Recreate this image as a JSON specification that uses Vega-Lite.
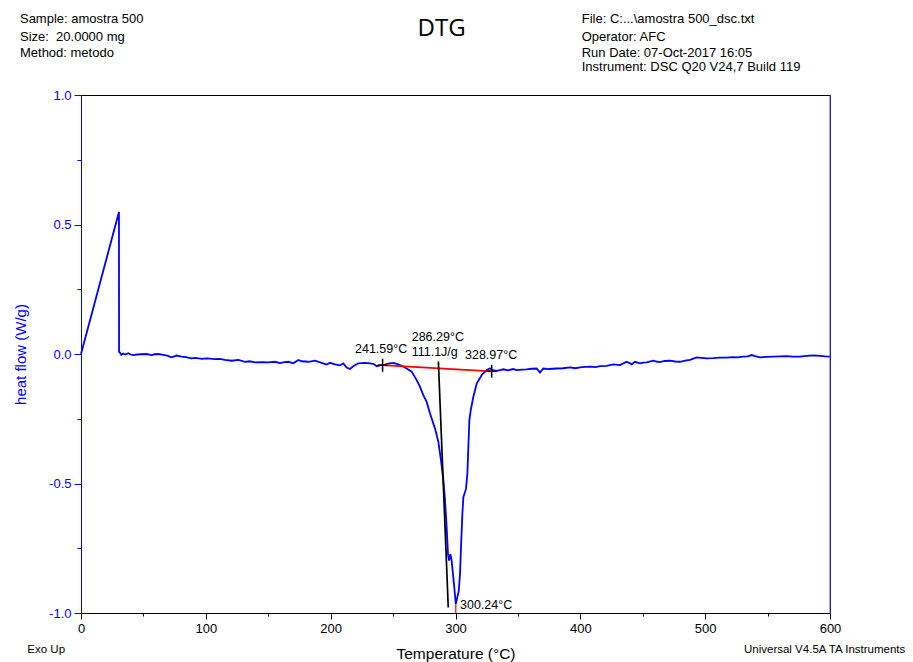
{
  "$schema": "https://vega.github.io/schema/vega-lite/v6.json",
  "width": 749,
  "height": 518,
  "autosize": {"type": "none"},
  "padding": {"left": 81, "top": 95, "right": 83, "bottom": 49},
  "background": "white",
  "config": {"view": {"stroke": "black", "strokeWidth": 1}, "font": "Liberation Sans"},
  "datasets": {
    "curve": [
      {"T": 0, "hf": 0}, {"T": 30.4, "hf": 0.548}, {"T": 30.5, "hf": 0.008}, {"T": 31.2, "hf": 0.005},
      {"T": 32.3, "hf": -0.003}, {"T": 33.9, "hf": 0.002}, {"T": 35.5, "hf": -0.002}, {"T": 37.9, "hf": 0.003},
      {"T": 40, "hf": -0.002}, {"T": 41.9, "hf": -0.004}, {"T": 45, "hf": -0.002}, {"T": 48.6, "hf": -0.001},
      {"T": 52.6, "hf": 0.0}, {"T": 56.6, "hf": -0.004}, {"T": 59, "hf": -0.001}, {"T": 61.9, "hf": 0.0},
      {"T": 65.9, "hf": -0.003}, {"T": 69, "hf": -0.006}, {"T": 72.6, "hf": -0.013}, {"T": 76.6, "hf": -0.006},
      {"T": 80.6, "hf": -0.010}, {"T": 84, "hf": -0.012}, {"T": 88.6, "hf": -0.017}, {"T": 92, "hf": -0.015},
      {"T": 96.6, "hf": -0.019}, {"T": 101, "hf": -0.017}, {"T": 107.3, "hf": -0.020}, {"T": 111, "hf": -0.019},
      {"T": 115.3, "hf": -0.023}, {"T": 120.7, "hf": -0.026}, {"T": 126, "hf": -0.023}, {"T": 131.4, "hf": -0.030},
      {"T": 135, "hf": -0.028}, {"T": 139.4, "hf": -0.032}, {"T": 144.7, "hf": -0.031}, {"T": 150.1, "hf": -0.032},
      {"T": 155.4, "hf": -0.030}, {"T": 159.4, "hf": -0.035}, {"T": 163, "hf": -0.031}, {"T": 166.1, "hf": -0.030},
      {"T": 170.1, "hf": -0.036}, {"T": 174.1, "hf": -0.023}, {"T": 176.8, "hf": -0.028}, {"T": 182.1, "hf": -0.030},
      {"T": 187.5, "hf": -0.026}, {"T": 192.8, "hf": -0.034}, {"T": 196.8, "hf": -0.041}, {"T": 199.5, "hf": -0.034},
      {"T": 203.5, "hf": -0.040}, {"T": 207.5, "hf": -0.044}, {"T": 210.1, "hf": -0.036}, {"T": 212.8, "hf": -0.052},
      {"T": 215.5, "hf": -0.058}, {"T": 218.1, "hf": -0.047}, {"T": 222.1, "hf": -0.036}, {"T": 227.5, "hf": -0.034},
      {"T": 231.5, "hf": -0.036}, {"T": 234.2, "hf": -0.038}, {"T": 236.9, "hf": -0.047}, {"T": 240, "hf": -0.043},
      {"T": 242.2, "hf": -0.043}, {"T": 246, "hf": -0.037}, {"T": 250.2, "hf": -0.034}, {"T": 253, "hf": -0.038},
      {"T": 255.6, "hf": -0.043}, {"T": 258, "hf": -0.048}, {"T": 260.9, "hf": -0.056}, {"T": 264.9, "hf": -0.068},
      {"T": 268.9, "hf": -0.101}, {"T": 271.6, "hf": -0.127}, {"T": 274.2, "hf": -0.159}, {"T": 276.9, "hf": -0.185},
      {"T": 279.6, "hf": -0.230}, {"T": 283.6, "hf": -0.288}, {"T": 286.3, "hf": -0.340}, {"T": 288.4, "hf": -0.411},
      {"T": 290.3, "hf": -0.488}, {"T": 291.6, "hf": -0.566}, {"T": 292.9, "hf": -0.669}, {"T": 294.0, "hf": -0.773},
      {"T": 294.8, "hf": -0.798}, {"T": 295.9, "hf": -0.773}, {"T": 296.9, "hf": -0.798}, {"T": 298.8, "hf": -0.889},
      {"T": 300.24, "hf": -0.965}, {"T": 302.6, "hf": -0.915}, {"T": 303.6, "hf": -0.85}, {"T": 304.4, "hf": -0.747},
      {"T": 305.5, "hf": -0.618}, {"T": 306.3, "hf": -0.553}, {"T": 308.4, "hf": -0.521}, {"T": 309.5, "hf": -0.462},
      {"T": 311.1, "hf": -0.256}, {"T": 312.2, "hf": -0.217}, {"T": 314.3, "hf": -0.165}, {"T": 317, "hf": -0.114},
      {"T": 321, "hf": -0.081}, {"T": 325, "hf": -0.062}, {"T": 327.6, "hf": -0.056}, {"T": 330, "hf": -0.062},
      {"T": 333, "hf": -0.065}, {"T": 335.7, "hf": -0.062}, {"T": 338.3, "hf": -0.059}, {"T": 342, "hf": -0.063},
      {"T": 346.3, "hf": -0.058}, {"T": 349, "hf": -0.062}, {"T": 353, "hf": -0.060}, {"T": 357, "hf": -0.059},
      {"T": 361, "hf": -0.057}, {"T": 365, "hf": -0.056}, {"T": 367.7, "hf": -0.072}, {"T": 370.3, "hf": -0.056},
      {"T": 375, "hf": -0.058}, {"T": 381, "hf": -0.056}, {"T": 386, "hf": -0.055}, {"T": 391.7, "hf": -0.052},
      {"T": 396, "hf": -0.055}, {"T": 399.7, "hf": -0.052}, {"T": 404, "hf": -0.050}, {"T": 407.8, "hf": -0.049},
      {"T": 412, "hf": -0.051}, {"T": 415.8, "hf": -0.047}, {"T": 421, "hf": -0.046}, {"T": 426.4, "hf": -0.040},
      {"T": 431.8, "hf": -0.043}, {"T": 434.5, "hf": -0.036}, {"T": 437.1, "hf": -0.030}, {"T": 439, "hf": -0.034},
      {"T": 441.1, "hf": -0.040}, {"T": 443.8, "hf": -0.030}, {"T": 447.8, "hf": -0.036}, {"T": 450.5, "hf": -0.033},
      {"T": 453.1, "hf": -0.032}, {"T": 458.5, "hf": -0.026}, {"T": 461, "hf": -0.029}, {"T": 463.8, "hf": -0.031},
      {"T": 467.5, "hf": -0.027}, {"T": 471.8, "hf": -0.026}, {"T": 476, "hf": -0.029}, {"T": 479.8, "hf": -0.030},
      {"T": 484, "hf": -0.026}, {"T": 487.9, "hf": -0.023}, {"T": 490.5, "hf": -0.018}, {"T": 493.2, "hf": -0.013},
      {"T": 497, "hf": -0.015}, {"T": 501, "hf": -0.017}, {"T": 506.5, "hf": -0.016}, {"T": 511, "hf": -0.014},
      {"T": 517.2, "hf": -0.014}, {"T": 522, "hf": -0.012}, {"T": 526, "hf": -0.013}, {"T": 530.6, "hf": -0.010},
      {"T": 534, "hf": -0.009}, {"T": 537.3, "hf": -0.004}, {"T": 540, "hf": -0.008}, {"T": 543.9, "hf": -0.013},
      {"T": 549, "hf": -0.011}, {"T": 554.6, "hf": -0.010}, {"T": 560, "hf": -0.009}, {"T": 565.3, "hf": -0.008},
      {"T": 570, "hf": -0.010}, {"T": 576, "hf": -0.010}, {"T": 581, "hf": -0.007}, {"T": 586.6, "hf": -0.005},
      {"T": 592, "hf": -0.007}, {"T": 596, "hf": -0.009}, {"T": 600, "hf": -0.010}
    ],
    "baseline": [{"T": 241.59, "hf": -0.043}, {"T": 328.97, "hf": -0.067}],
    "tangent": [{"T": 286.29, "hf": -0.029}, {"T": 294.2, "hf": -0.979}],
    "crosses": [{"T": 241.59, "hf": -0.043}, {"T": 328.97, "hf": -0.067}],
    "peak": [{"T": 300.24, "hf": -0.965, "hf2": -1.0}],
    "annot": [
      {"T": 219.5, "hf": 0.0204, "label": "241.59°C"},
      {"T": 264.9, "hf": 0.0667, "label": "286.29°C"},
      {"T": 264.9, "hf": 0.0089, "label": "111.1J/g"},
      {"T": 307.6, "hf": -0.0039, "label": "328.97°C"},
      {"T": 303.6, "hf": -0.968, "label": "300.24°C"}
    ],
    "header": [
      {"T": -48.9, "hf": 1.2946, "label": "Sample: amostra 500"},
      {"T": -48.9, "hf": 1.2225, "label": "Size: \u00a020.0000 mg"},
      {"T": -48.9, "hf": 1.1608, "label": "Method: metodo"},
      {"T": 401.1, "hf": 1.2946, "label": "File: C:...\\amostra 500_dsc.txt"},
      {"T": 401.1, "hf": 1.2225, "label": "Operator: AFC"},
      {"T": 401.1, "hf": 1.1608, "label": "Run Date: 07-Oct-2017 16:05"},
      {"T": 401.1, "hf": 1.108, "label": "Instrument: DSC Q20 V24,7 Build 119"}
    ],
    "footer": [
      {"T": -43, "hf": -1.1415, "label": "Exo Up"},
      {"T": 531.1, "hf": -1.1415, "label": "Universal V4.5A TA Instruments"}
    ],
    "titletext": [{"T": 288.9, "hf": 1.2545, "label": "DTG"}],
    "rightedge": [{"T": 600}]
  },
  "layer": [
    {
      "data": {"name": "curve"},
      "mark": {"type": "line", "color": "#0000ff", "strokeWidth": 1.8},
      "encoding": {
        "x": {
          "field": "T", "type": "quantitative",
          "scale": {"domain": [0, 600], "nice": false, "zero": false},
          "axis": {
            "values": [0, 25, 50, 75, 100, 125, 150, 175, 200, 225, 250, 275, 300, 325, 350, 375, 400, 425, 450, 475, 500, 525, 550, 575, 600],
            "labelExpr": "datum.value % 100 == 0 ? datum.label : ''",
            "tickSize": {"condition": {"test": "datum.value % 100 == 0", "value": 6}, "value": 3},
            "grid": false, "domainColor": "black", "tickColor": "black", "labelColor": "black",
            "labelFont": "Liberation Sans", "labelFontSize": 13, "labelPadding": 3,
            "labelFlush": false, "labelOverlap": false,
            "title": "Temperature (°C)", "titleFont": "Liberation Sans", "titleFontSize": 15.5,
            "titleFontWeight": "normal", "titleColor": "black", "titlePadding": 11
          }
        },
        "y": {
          "field": "hf", "type": "quantitative",
          "scale": {"domain": [-1, 1], "nice": false, "zero": false},
          "axis": {
            "values": [-1, -0.875, -0.75, -0.625, -0.5, -0.375, -0.25, -0.125, 0, 0.125, 0.25, 0.375, 0.5, 0.625, 0.75, 0.875, 1],
            "labelExpr": "abs(datum.value*2 - round(datum.value*2)) < 0.001 ? (datum.value < 0 ? '-' + format(-datum.value, '.1f') : format(datum.value, '.1f')) : ''",
            "tickSize": {"condition": {"test": "abs(datum.value*2 - round(datum.value*2)) < 0.001", "value": 7}, "value": 4},
            "grid": false, "domainColor": "#0000ff", "tickColor": "#0000ff", "labelColor": "#0000ff",
            "labelFont": "Liberation Sans", "labelFontSize": 13, "labelPadding": 3, "labelOverlap": false,
            "title": "heat flow (W/g)", "titleFont": "Liberation Sans", "titleFontSize": 15,
            "titleFontWeight": "normal", "titleColor": "#0000ff", "titlePadding": 20
          }
        }
      }
    },
    {
      "data": {"name": "rightedge"},
      "mark": {"type": "rule", "color": "#4c4cff", "strokeWidth": 1},
      "encoding": {
        "x": {"field": "T", "type": "quantitative", "scale": {"domain": [0, 600], "nice": false, "zero": false}}
      }
    },
    {
      "data": {"name": "baseline"},
      "mark": {"type": "line", "color": "#ff0000", "strokeWidth": 1.6},
      "encoding": {
        "x": {"field": "T", "type": "quantitative", "scale": {"domain": [0, 600], "nice": false, "zero": false}},
        "y": {"field": "hf", "type": "quantitative", "scale": {"domain": [-1, 1], "nice": false, "zero": false}}
      }
    },
    {
      "data": {"name": "tangent"},
      "mark": {"type": "line", "color": "#000000", "strokeWidth": 1.7},
      "encoding": {
        "x": {"field": "T", "type": "quantitative", "scale": {"domain": [0, 600], "nice": false, "zero": false}},
        "y": {"field": "hf", "type": "quantitative", "scale": {"domain": [-1, 1], "nice": false, "zero": false}}
      }
    },
    {
      "data": {"name": "peak"},
      "mark": {"type": "rule", "color": "#ff0000", "strokeWidth": 1.2},
      "encoding": {
        "x": {"field": "T", "type": "quantitative", "scale": {"domain": [0, 600], "nice": false, "zero": false}},
        "y": {"field": "hf", "type": "quantitative", "scale": {"domain": [-1, 1], "nice": false, "zero": false}},
        "y2": {"field": "hf2"}
      }
    },
    {
      "data": {"name": "crosses"},
      "mark": {"type": "point", "shape": "M0,-1.3V1.3M-1,0H1", "filled": false, "color": "#000000", "strokeWidth": 1.5, "size": 100, "opacity": 1},
      "encoding": {
        "x": {"field": "T", "type": "quantitative", "scale": {"domain": [0, 600], "nice": false, "zero": false}},
        "y": {"field": "hf", "type": "quantitative", "scale": {"domain": [-1, 1], "nice": false, "zero": false}}
      }
    },
    {
      "data": {"name": "annot"},
      "mark": {"type": "text", "align": "left", "baseline": "middle", "font": "Liberation Sans", "fontSize": 12.5, "color": "#000000"},
      "encoding": {
        "x": {"field": "T", "type": "quantitative", "scale": {"domain": [0, 600], "nice": false, "zero": false}},
        "y": {"field": "hf", "type": "quantitative", "scale": {"domain": [-1, 1], "nice": false, "zero": false}},
        "text": {"field": "label"}
      }
    },
    {
      "data": {"name": "header"},
      "mark": {"type": "text", "align": "left", "baseline": "middle", "font": "Liberation Sans", "fontSize": 13, "color": "#000000"},
      "encoding": {
        "x": {"field": "T", "type": "quantitative", "scale": {"domain": [0, 600], "nice": false, "zero": false}},
        "y": {"field": "hf", "type": "quantitative", "scale": {"domain": [-1, 1], "nice": false, "zero": false}},
        "text": {"field": "label"}
      }
    },
    {
      "data": {"name": "footer"},
      "mark": {"type": "text", "align": "left", "baseline": "middle", "font": "Liberation Sans", "fontSize": 11.5, "color": "#000000"},
      "encoding": {
        "x": {"field": "T", "type": "quantitative", "scale": {"domain": [0, 600], "nice": false, "zero": false}},
        "y": {"field": "hf", "type": "quantitative", "scale": {"domain": [-1, 1], "nice": false, "zero": false}},
        "text": {"field": "label"}
      }
    },
    {
      "data": {"name": "titletext"},
      "mark": {"type": "text", "align": "center", "baseline": "middle", "font": "Open Sans", "fontSize": 24, "color": "#000000"},
      "encoding": {
        "x": {"field": "T", "type": "quantitative", "scale": {"domain": [0, 600], "nice": false, "zero": false}},
        "y": {"field": "hf", "type": "quantitative", "scale": {"domain": [-1, 1], "nice": false, "zero": false}},
        "text": {"field": "label"}
      }
    }
  ]
}
